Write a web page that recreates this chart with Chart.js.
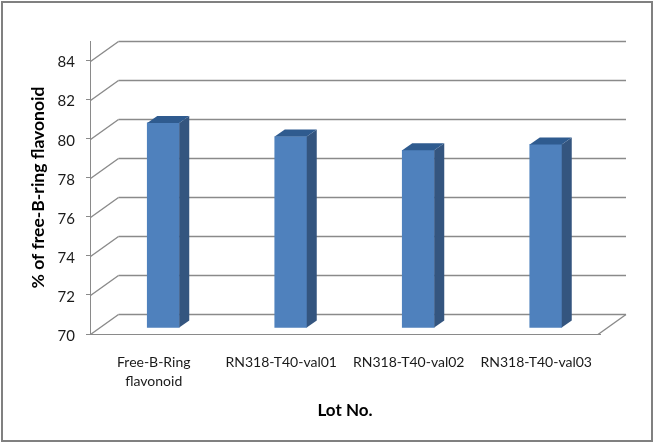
<!DOCTYPE html>
<html>
<head>
<meta charset="utf-8">
<style>
  html, body { margin: 0; padding: 0; background: #fff; }
  #wrap { width: 654px; height: 443px; }
</style>
<script src="https://cdn.jsdelivr.net/npm/chart.js@4"></script>
</head>
<body>
<div id="wrap"><canvas id="myChart"></canvas></div>
<script>
const categories = [['Free-B-Ring', 'flavonoid'], 'RN318-T40-val01', 'RN318-T40-val02', 'RN318-T40-val03'];
const values = [80.5, 79.8, 79.1, 79.4];
const yMin = 70;
const yTop = 85;
const yLastTick = 84;
const yStep = 2;

const gridColor = '#8a8a8a';
const frontColor = '#4f81bd';
const sideColor = '#34557f';
const topColor = '#2f5b8f';

// how far the back wall sits behind the front plane, and the bars in between
const wallDepth = { x: 28, y: -20 };
const barShift = { x: 9.5, y: -6 };
const barDepth = { x: 10, y: -7 };

const line = (ctx, x1, y1, x2, y2) => {
  ctx.beginPath();
  ctx.moveTo(x1, y1);
  ctx.lineTo(x2, y2);
  ctx.stroke();
};

const fake3d = {
  id: 'fake3d',
  beforeDatasetsDraw(chart) {
    const { ctx, chartArea, scales } = chart;
    const left = chartArea.left + 0.5;
    const right = chartArea.right;
    ctx.save();
    ctx.strokeStyle = gridColor;
    ctx.lineWidth = 1.4;
    for (let v = yMin; v <= yLastTick; v += yStep) {
      const y = Math.round(scales.y.getPixelForValue(v)) + 0.5;
      line(ctx, left, y, left + wallDepth.x, y + wallDepth.y);
      line(ctx, left + wallDepth.x, y + wallDepth.y, right + wallDepth.x - 2, y + wallDepth.y);
    }
    // floor, right edge
    const floor = Math.round(scales.y.getPixelForValue(yMin)) + 0.5;
    line(ctx, right - 2, floor, right + wallDepth.x - 2, floor + wallDepth.y);
    ctx.restore();
    ctx.save();
    ctx.translate(barShift.x, barShift.y);
  },
  afterDatasetsDraw(chart) {
    const { ctx } = chart;
    for (const bar of chart.getDatasetMeta(0).data) {
      const l = bar.x - bar.width / 2;
      const r = bar.x + bar.width / 2;
      ctx.fillStyle = sideColor;
      ctx.beginPath();
      ctx.moveTo(r, bar.y);
      ctx.lineTo(r + barDepth.x, bar.y + barDepth.y);
      ctx.lineTo(r + barDepth.x, bar.base + barDepth.y);
      ctx.lineTo(r, bar.base);
      ctx.closePath();
      ctx.fill();
      ctx.fillStyle = topColor;
      ctx.beginPath();
      ctx.moveTo(l, bar.y);
      ctx.lineTo(l + barDepth.x, bar.y + barDepth.y);
      ctx.lineTo(r + barDepth.x, bar.y + barDepth.y);
      ctx.lineTo(r, bar.y);
      ctx.closePath();
      ctx.fill();
    }
    ctx.restore();
  },
  afterDraw(chart) {
    const { ctx } = chart;
    ctx.save();
    ctx.strokeStyle = '#808080';
    ctx.lineWidth = 2;
    ctx.strokeRect(2, 2, 650, 439);
    ctx.restore();
  },
};

const initChart = () => {
  const ctx = document.getElementById('myChart').getContext('2d');
  Chart.defaults.font.family = 'Lato, Carlito, sans-serif';
  Chart.defaults.color = '#1a1a1a';

  new Chart(ctx, {
    type: 'bar',
    plugins: [fake3d],
    data: {
      labels: categories,
      datasets: [
        {
          label: '% of free-B-ring flavonoid',
          data: values,
          base: yMin,
          backgroundColor: frontColor,
          barThickness: 32,
          clip: false,
        },
      ],
    },
    options: {
      responsive: false,
      animation: false,
      layout: { padding: { left: 0, right: 54, top: 41, bottom: 0 } },
      plugins: { legend: { display: false }, tooltip: { enabled: false } },
      scales: {
        x: {
          afterFit: (scale) => { scale.height = 109; },
          grid: { display: false },
          border: { display: true, color: gridColor },
          ticks: {
            autoSkip: false,
            maxRotation: 0,
            padding: 11,
            font: { size: 14, lineHeight: 1.35 },
            color: '#1a1a1a',
          },
          title: {
            display: true,
            text: 'Lot No.',
            font: { size: 17, weight: 'bold' },
            color: '#000',
            padding: { top: 14, bottom: 22 },
          },
        },
        y: {
          min: yMin,
          max: yTop,
          afterFit: (scale) => { scale.width = 90; },
          afterBuildTicks: (scale) => {
            scale.ticks = scale.ticks.filter((t) => t.value <= yLastTick);
          },
          grid: { drawOnChartArea: false, drawTicks: true, tickLength: 4, color: gridColor },
          border: { display: true, color: gridColor },
          ticks: {
            stepSize: yStep,
            padding: 11,
            labelOffset: 2,
            font: { size: 15 },
            color: '#1a1a1a',
          },
          title: {
            display: true,
            text: '% of free-B-ring flavonoid',
            font: { size: 17.5, weight: 'bold' },
            color: '#000',
            padding: { top: 28, bottom: 0 },
          },
        },
      },
    },
  });
};

const canvas = document.getElementById('myChart');
canvas.width = 654;
canvas.height = 443;
canvas.style.display = 'block';
initChart();
</script>
</body>
</html>
